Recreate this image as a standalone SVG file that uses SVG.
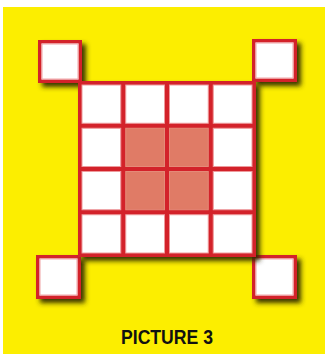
<svg xmlns="http://www.w3.org/2000/svg" width="325" height="354" viewBox="0 0 325 354">
<defs>
<filter id="sh" x="-20%" y="-20%" width="150%" height="150%">
<feDropShadow dx="4" dy="4" stdDeviation="2.4" flood-color="#2e2a00" flood-opacity="0.95"/>
</filter>
</defs>
<style>
.frame{fill:#d3232c}
.cell{fill:#ffffff;stroke:#ee9a9c;stroke-width:1}
.mid{fill:#e07b66;stroke:#e58a78;stroke-width:1}
.corner{fill:#ffffff;stroke:#d3232c;stroke-width:3.5}
.inner{fill:none;stroke:#f0a4a6;stroke-width:1}
.lbl{font-family:"Liberation Sans","DejaVu Sans",sans-serif;font-weight:bold;font-size:21px;fill:#111111}
</style>
<rect x="0" y="0" width="325" height="354" fill="#ffffff"/>
<rect x="3" y="7" width="322" height="347" fill="#fcee00"/>
<g id="corner-tl" filter="url(#sh)"><rect class="corner" x="39.75" y="41.75" width="40.5" height="39.5"/><rect class="inner" x="42" y="44" width="36" height="35"/></g>
<g id="corner-tr" filter="url(#sh)"><rect class="corner" x="253.75" y="40.75" width="41.5" height="39.5"/><rect class="inner" x="256" y="43" width="37" height="35"/></g>
<g id="corner-bl" filter="url(#sh)"><rect class="corner" x="37.75" y="256.75" width="41.5" height="40.5"/><rect class="inner" x="40" y="259" width="37" height="36"/></g>
<g id="corner-br" filter="url(#sh)"><rect class="corner" x="253.75" y="256.75" width="41.5" height="40.5"/><rect class="inner" x="256" y="259" width="37" height="36"/></g>
<g id="grid">
<rect class="frame" x="78" y="81" width="178" height="176" filter="url(#sh)"/>
<g id="r1c1"><rect class="cell" x="82" y="85" width="38.75" height="38.25"/></g>
<g id="r1c2"><rect class="cell" x="125.75" y="85" width="38.75" height="38.25"/></g>
<g id="r1c3"><rect class="cell" x="169.5" y="85" width="38.75" height="38.25"/></g>
<g id="r1c4"><rect class="cell" x="213.25" y="85" width="38.75" height="38.25"/></g>
<g id="r2c1"><rect class="cell" x="82" y="128.25" width="38.75" height="38.25"/></g>
<g id="r2c2"><rect class="mid" x="125.75" y="128.25" width="38.75" height="38.25"/></g>
<g id="r2c3"><rect class="mid" x="169.5" y="128.25" width="38.75" height="38.25"/></g>
<g id="r2c4"><rect class="cell" x="213.25" y="128.25" width="38.75" height="38.25"/></g>
<g id="r3c1"><rect class="cell" x="82" y="171.5" width="38.75" height="38.25"/></g>
<g id="r3c2"><rect class="mid" x="125.75" y="171.5" width="38.75" height="38.25"/></g>
<g id="r3c3"><rect class="mid" x="169.5" y="171.5" width="38.75" height="38.25"/></g>
<g id="r3c4"><rect class="cell" x="213.25" y="171.5" width="38.75" height="38.25"/></g>
<g id="r4c1"><rect class="cell" x="82" y="214.75" width="38.75" height="38.25"/></g>
<g id="r4c2"><rect class="cell" x="125.75" y="214.75" width="38.75" height="38.25"/></g>
<g id="r4c3"><rect class="cell" x="169.5" y="214.75" width="38.75" height="38.25"/></g>
<g id="r4c4"><rect class="cell" x="213.25" y="214.75" width="38.75" height="38.25"/></g>
</g>
<g id="connectors"></g>
<g id="caption"><text class="lbl" x="121" y="344" textLength="92" lengthAdjust="spacingAndGlyphs">PICTURE 3</text></g>
</svg>
